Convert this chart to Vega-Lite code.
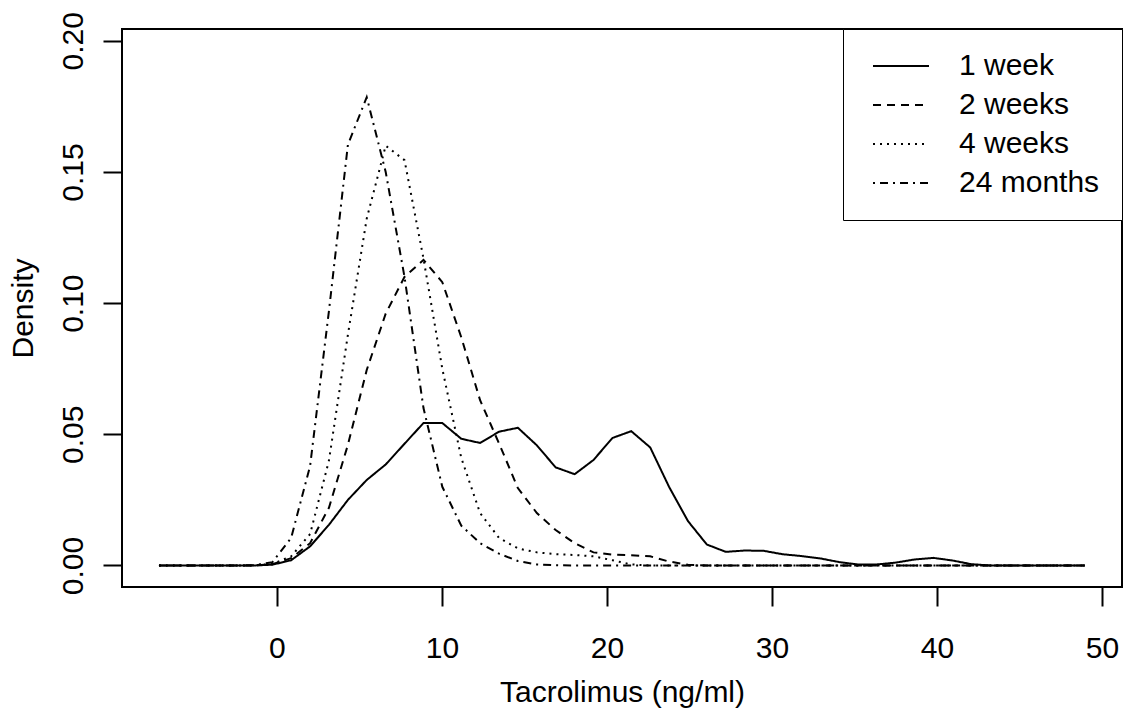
{
  "$schema": "https://vega.github.io/schema/vega-lite/v6.json",
  "width": 1000,
  "height": 558,
  "autosize": {"type": "none"},
  "padding": {"left": 122, "top": 29, "right": 1, "bottom": 124},
  "background": "white",
  "config": {"view": {"stroke": "black", "strokeWidth": 2}, "font": "Liberation Sans"},
  "data": {"values": [
    {"x": -7.15, "g": "1 week", "d": 0}, {"x": -6.01, "g": "1 week", "d": 0}, {"x": -4.86, "g": "1 week", "d": 0}, {"x": -3.72, "g": "1 week", "d": 0}, {"x": -2.57, "g": "1 week", "d": 0}, {"x": -1.43, "g": "1 week", "d": 0}, {"x": -0.28, "g": "1 week", "d": 0.0003}, {"x": 0.86, "g": "1 week", "d": 0.002}, {"x": 2.01, "g": "1 week", "d": 0.0073}, {"x": 3.15, "g": "1 week", "d": 0.0155}, {"x": 4.30, "g": "1 week", "d": 0.025}, {"x": 5.44, "g": "1 week", "d": 0.0326}, {"x": 6.59, "g": "1 week", "d": 0.0385}, {"x": 7.73, "g": "1 week", "d": 0.0464}, {"x": 8.88, "g": "1 week", "d": 0.0543}, {"x": 10.02, "g": "1 week", "d": 0.0543}, {"x": 11.17, "g": "1 week", "d": 0.0483}, {"x": 12.31, "g": "1 week", "d": 0.0467}, {"x": 13.46, "g": "1 week", "d": 0.051}, {"x": 14.60, "g": "1 week", "d": 0.0525}, {"x": 15.75, "g": "1 week", "d": 0.0458}, {"x": 16.89, "g": "1 week", "d": 0.0374}, {"x": 18.04, "g": "1 week", "d": 0.0348}, {"x": 19.18, "g": "1 week", "d": 0.0402}, {"x": 20.33, "g": "1 week", "d": 0.0486}, {"x": 21.47, "g": "1 week", "d": 0.0512}, {"x": 22.62, "g": "1 week", "d": 0.045}, {"x": 23.76, "g": "1 week", "d": 0.030}, {"x": 24.91, "g": "1 week", "d": 0.0169}, {"x": 26.05, "g": "1 week", "d": 0.008}, {"x": 27.20, "g": "1 week", "d": 0.0052}, {"x": 28.34, "g": "1 week", "d": 0.0057}, {"x": 29.49, "g": "1 week", "d": 0.0056}, {"x": 30.63, "g": "1 week", "d": 0.0043}, {"x": 31.78, "g": "1 week", "d": 0.0036}, {"x": 32.92, "g": "1 week", "d": 0.0027}, {"x": 34.07, "g": "1 week", "d": 0.0013}, {"x": 35.21, "g": "1 week", "d": 0.0004}, {"x": 36.36, "g": "1 week", "d": 0.0004}, {"x": 37.50, "g": "1 week", "d": 0.0011}, {"x": 38.65, "g": "1 week", "d": 0.0023}, {"x": 39.79, "g": "1 week", "d": 0.0029}, {"x": 40.94, "g": "1 week", "d": 0.0019}, {"x": 42.08, "g": "1 week", "d": 0.0005}, {"x": 43.23, "g": "1 week", "d": 0}, {"x": 44.37, "g": "1 week", "d": 0}, {"x": 45.52, "g": "1 week", "d": 0}, {"x": 46.66, "g": "1 week", "d": 0}, {"x": 47.81, "g": "1 week", "d": 0}, {"x": 48.95, "g": "1 week", "d": 0},

    {"x": -7.15, "g": "2 weeks", "d": 0}, {"x": -6.01, "g": "2 weeks", "d": 0}, {"x": -4.86, "g": "2 weeks", "d": 0}, {"x": -3.72, "g": "2 weeks", "d": 0}, {"x": -2.57, "g": "2 weeks", "d": 0}, {"x": -1.43, "g": "2 weeks", "d": 0}, {"x": -0.28, "g": "2 weeks", "d": 0.0005}, {"x": 0.86, "g": "2 weeks", "d": 0.0028}, {"x": 2.01, "g": "2 weeks", "d": 0.0085}, {"x": 3.15, "g": "2 weeks", "d": 0.022}, {"x": 4.30, "g": "2 weeks", "d": 0.046}, {"x": 5.44, "g": "2 weeks", "d": 0.0745}, {"x": 6.59, "g": "2 weeks", "d": 0.096}, {"x": 7.73, "g": "2 weeks", "d": 0.11}, {"x": 8.88, "g": "2 weeks", "d": 0.1165}, {"x": 10.02, "g": "2 weeks", "d": 0.108}, {"x": 11.17, "g": "2 weeks", "d": 0.087}, {"x": 12.31, "g": "2 weeks", "d": 0.063}, {"x": 13.46, "g": "2 weeks", "d": 0.0465}, {"x": 14.60, "g": "2 weeks", "d": 0.0295}, {"x": 15.75, "g": "2 weeks", "d": 0.02}, {"x": 16.89, "g": "2 weeks", "d": 0.0135}, {"x": 18.04, "g": "2 weeks", "d": 0.0085}, {"x": 19.18, "g": "2 weeks", "d": 0.005}, {"x": 20.33, "g": "2 weeks", "d": 0.0041}, {"x": 21.47, "g": "2 weeks", "d": 0.0039}, {"x": 22.62, "g": "2 weeks", "d": 0.0035}, {"x": 23.76, "g": "2 weeks", "d": 0.0015}, {"x": 24.91, "g": "2 weeks", "d": 0.0003}, {"x": 26.05, "g": "2 weeks", "d": 0}, {"x": 27.20, "g": "2 weeks", "d": 0}, {"x": 28.34, "g": "2 weeks", "d": 0}, {"x": 29.49, "g": "2 weeks", "d": 0}, {"x": 30.63, "g": "2 weeks", "d": 0}, {"x": 31.78, "g": "2 weeks", "d": 0}, {"x": 32.92, "g": "2 weeks", "d": 0}, {"x": 34.07, "g": "2 weeks", "d": 0}, {"x": 35.21, "g": "2 weeks", "d": 0}, {"x": 36.36, "g": "2 weeks", "d": 0}, {"x": 37.50, "g": "2 weeks", "d": 0}, {"x": 38.65, "g": "2 weeks", "d": 0}, {"x": 39.79, "g": "2 weeks", "d": 0}, {"x": 40.94, "g": "2 weeks", "d": 0}, {"x": 42.08, "g": "2 weeks", "d": 0}, {"x": 43.23, "g": "2 weeks", "d": 0}, {"x": 44.37, "g": "2 weeks", "d": 0}, {"x": 45.52, "g": "2 weeks", "d": 0}, {"x": 46.66, "g": "2 weeks", "d": 0}, {"x": 47.81, "g": "2 weeks", "d": 0}, {"x": 48.95, "g": "2 weeks", "d": 0},

    {"x": -7.15, "g": "4 weeks", "d": 0}, {"x": -6.01, "g": "4 weeks", "d": 0}, {"x": -4.86, "g": "4 weeks", "d": 0}, {"x": -3.72, "g": "4 weeks", "d": 0}, {"x": -2.57, "g": "4 weeks", "d": 0}, {"x": -1.43, "g": "4 weeks", "d": 0}, {"x": -0.28, "g": "4 weeks", "d": 0.0006}, {"x": 0.86, "g": "4 weeks", "d": 0.0035}, {"x": 2.01, "g": "4 weeks", "d": 0.012}, {"x": 3.15, "g": "4 weeks", "d": 0.04}, {"x": 4.30, "g": "4 weeks", "d": 0.088}, {"x": 5.44, "g": "4 weeks", "d": 0.1322}, {"x": 6.59, "g": "4 weeks", "d": 0.16}, {"x": 7.73, "g": "4 weeks", "d": 0.1545}, {"x": 8.88, "g": "4 weeks", "d": 0.117}, {"x": 10.02, "g": "4 weeks", "d": 0.075}, {"x": 11.17, "g": "4 weeks", "d": 0.041}, {"x": 12.31, "g": "4 weeks", "d": 0.02}, {"x": 13.46, "g": "4 weeks", "d": 0.0105}, {"x": 14.60, "g": "4 weeks", "d": 0.0065}, {"x": 15.75, "g": "4 weeks", "d": 0.005}, {"x": 16.89, "g": "4 weeks", "d": 0.0043}, {"x": 18.04, "g": "4 weeks", "d": 0.004}, {"x": 19.18, "g": "4 weeks", "d": 0.0035}, {"x": 20.33, "g": "4 weeks", "d": 0.002}, {"x": 21.47, "g": "4 weeks", "d": 0.0004}, {"x": 22.62, "g": "4 weeks", "d": 0}, {"x": 23.76, "g": "4 weeks", "d": 0}, {"x": 24.91, "g": "4 weeks", "d": 0}, {"x": 26.05, "g": "4 weeks", "d": 0}, {"x": 27.20, "g": "4 weeks", "d": 0}, {"x": 28.34, "g": "4 weeks", "d": 0}, {"x": 29.49, "g": "4 weeks", "d": 0}, {"x": 30.63, "g": "4 weeks", "d": 0}, {"x": 31.78, "g": "4 weeks", "d": 0}, {"x": 32.92, "g": "4 weeks", "d": 0}, {"x": 34.07, "g": "4 weeks", "d": 0}, {"x": 35.21, "g": "4 weeks", "d": 0}, {"x": 36.36, "g": "4 weeks", "d": 0}, {"x": 37.50, "g": "4 weeks", "d": 0}, {"x": 38.65, "g": "4 weeks", "d": 0}, {"x": 39.79, "g": "4 weeks", "d": 0}, {"x": 40.94, "g": "4 weeks", "d": 0}, {"x": 42.08, "g": "4 weeks", "d": 0}, {"x": 43.23, "g": "4 weeks", "d": 0}, {"x": 44.37, "g": "4 weeks", "d": 0}, {"x": 45.52, "g": "4 weeks", "d": 0}, {"x": 46.66, "g": "4 weeks", "d": 0}, {"x": 47.81, "g": "4 weeks", "d": 0}, {"x": 48.95, "g": "4 weeks", "d": 0},

    {"x": -7.15, "g": "24 months", "d": 0}, {"x": -6.01, "g": "24 months", "d": 0}, {"x": -4.86, "g": "24 months", "d": 0}, {"x": -3.72, "g": "24 months", "d": 0}, {"x": -2.57, "g": "24 months", "d": 0}, {"x": -1.43, "g": "24 months", "d": 0.0001}, {"x": -0.28, "g": "24 months", "d": 0.0012}, {"x": 0.86, "g": "24 months", "d": 0.0105}, {"x": 2.01, "g": "24 months", "d": 0.038}, {"x": 3.15, "g": "24 months", "d": 0.097}, {"x": 4.30, "g": "24 months", "d": 0.1604}, {"x": 5.44, "g": "24 months", "d": 0.1785}, {"x": 6.59, "g": "24 months", "d": 0.15}, {"x": 7.73, "g": "24 months", "d": 0.11}, {"x": 8.88, "g": "24 months", "d": 0.06}, {"x": 10.02, "g": "24 months", "d": 0.03}, {"x": 11.17, "g": "24 months", "d": 0.0152}, {"x": 12.31, "g": "24 months", "d": 0.0085}, {"x": 13.46, "g": "24 months", "d": 0.0045}, {"x": 14.60, "g": "24 months", "d": 0.0017}, {"x": 15.75, "g": "24 months", "d": 0.0004}, {"x": 16.89, "g": "24 months", "d": 0.0001}, {"x": 18.04, "g": "24 months", "d": 0}, {"x": 19.18, "g": "24 months", "d": 0}, {"x": 20.33, "g": "24 months", "d": 0}, {"x": 21.47, "g": "24 months", "d": 0}, {"x": 22.62, "g": "24 months", "d": 0}, {"x": 23.76, "g": "24 months", "d": 0}, {"x": 24.91, "g": "24 months", "d": 0}, {"x": 26.05, "g": "24 months", "d": 0}, {"x": 27.20, "g": "24 months", "d": 0}, {"x": 28.34, "g": "24 months", "d": 0}, {"x": 29.49, "g": "24 months", "d": 0}, {"x": 30.63, "g": "24 months", "d": 0}, {"x": 31.78, "g": "24 months", "d": 0}, {"x": 32.92, "g": "24 months", "d": 0}, {"x": 34.07, "g": "24 months", "d": 0}, {"x": 35.21, "g": "24 months", "d": 0}, {"x": 36.36, "g": "24 months", "d": 0}, {"x": 37.50, "g": "24 months", "d": 0}, {"x": 38.65, "g": "24 months", "d": 0}, {"x": 39.79, "g": "24 months", "d": 0}, {"x": 40.94, "g": "24 months", "d": 0}, {"x": 42.08, "g": "24 months", "d": 0}, {"x": 43.23, "g": "24 months", "d": 0}, {"x": 44.37, "g": "24 months", "d": 0}, {"x": 45.52, "g": "24 months", "d": 0}, {"x": 46.66, "g": "24 months", "d": 0}, {"x": 47.81, "g": "24 months", "d": 0}, {"x": 48.95, "g": "24 months", "d": 0}
  ]},
  "mark": {"type": "line", "stroke": "black", "strokeWidth": 2, "clip": true},
  "encoding": {
    "x": {
      "field": "x", "type": "quantitative",
      "scale": {"domain": [-9.39, 51.21], "nice": false, "zero": false},
      "axis": {
        "values": [0, 10, 20, 30, 40, 50], "title": "Tacrolimus (ng/ml)",
        "domain": false, "grid": false, "ticks": true, "tickSize": 19, "tickWidth": 2, "tickColor": "black",
        "labelFontSize": 30, "labelFont": "Liberation Sans", "labelColor": "black", "labelPadding": 27,
        "labelBaseline": "top", "labelFlush": false, "labelOverlap": false,
        "titleFontSize": 30, "titleFont": "Liberation Sans", "titleFontWeight": "normal", "titleColor": "black", "titlePadding": 14
      }
    },
    "y": {
      "field": "d", "type": "quantitative",
      "scale": {"domain": [-0.0082, 0.2045], "nice": false, "zero": false},
      "axis": {
        "values": [0, 0.05, 0.1, 0.15, 0.2], "format": ".2f", "title": "Density",
        "domain": false, "grid": false, "ticks": true, "tickSize": 19, "tickWidth": 2, "tickColor": "black",
        "labelFontSize": 30, "labelFont": "Liberation Sans", "labelColor": "black", "labelAngle": 270,
        "labelAlign": "center", "labelBaseline": "alphabetic", "labelPadding": 21, "labelFlush": false, "labelOverlap": false,
        "titleFontSize": 30, "titleFont": "Liberation Sans", "titleFontWeight": "normal", "titleColor": "black", "titlePadding": 20
      }
    },
    "strokeDash": {
      "field": "g", "type": "nominal",
      "scale": {"domain": ["1 week", "2 weeks", "4 weeks", "24 months"], "range": [[1, 0], [8, 6], [2, 5], [2, 5, 8, 5]]},
      "legend": {
        "title": null, "orient": "none", "legendX": 721, "legendY": 0, "direction": "vertical",
        "strokeColor": "black", "fillColor": "white", "padding": 22,
        "symbolType": "M-2,0L2,0", "symbolSize": 784, "symbolStrokeColor": "black", "symbolStrokeWidth": 2,
        "symbolFillColor": "transparent", "symbolOffset": 21, "labelOffset": 43,
        "labelFontSize": 30, "labelFont": "Liberation Sans", "labelColor": "black", "rowPadding": 9, "labelLimit": 400
      }
    }
  }
}
